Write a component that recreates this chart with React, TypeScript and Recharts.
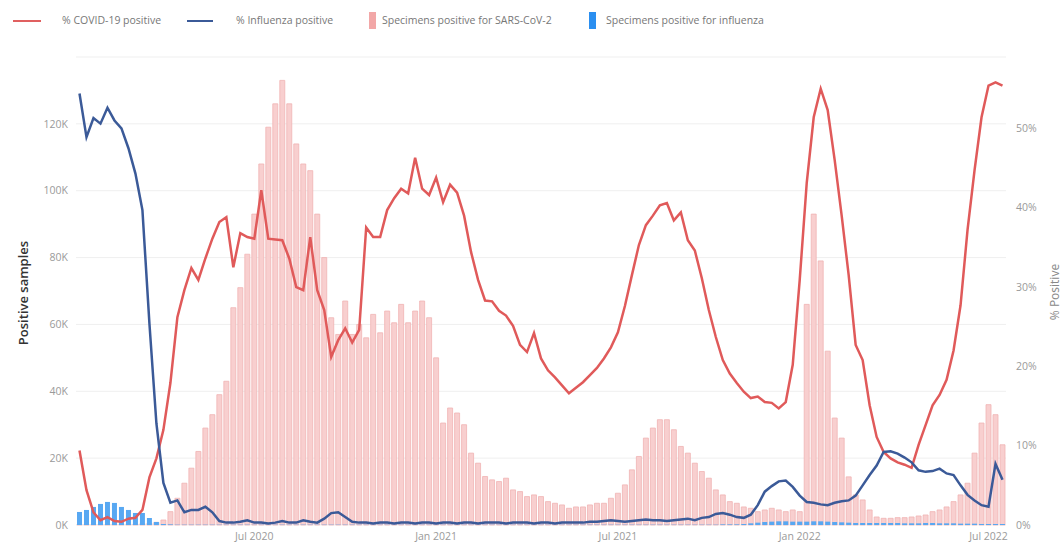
import { Bar, CartesianGrid, ComposedChart, Line, XAxis, YAxis } from "recharts";

// weekly series, first week = early Jan 2020
const covidPositivePct = [
  9.4, 4.4, 1.6, 0.6, 1.0, 0.5, 0.4, 0.8, 0.9, 1.9,
  6.0, 8.4, 12.0, 17.9, 26.2, 29.6, 32.4, 30.9, 33.6, 36.1,
  38.2, 38.8, 32.5, 36.8, 36.3, 36.1, 42.2, 36.1, 36.0, 35.9,
  33.6, 30.0, 29.6, 36.3, 29.6, 27.1, 21.2, 23.3, 24.8, 23.0,
  24.6, 37.5, 36.3, 36.3, 39.7, 41.2, 42.4, 41.8, 46.3, 42.4,
  41.6, 43.8, 40.7, 42.9, 41.9, 39.0, 34.4, 30.9, 28.3, 28.2,
  27.0, 26.4, 25.1, 22.7, 21.8, 24.2, 21.0, 19.5, 18.6, 17.6,
  16.6, 17.3, 18.0, 18.9, 19.8, 21.0, 22.4, 24.3, 27.6, 31.5,
  35.3, 37.8, 39.0, 40.3, 40.6, 38.4, 39.4, 35.9, 34.6, 31.1,
  27.1, 23.7, 20.8, 19.1, 17.9, 16.8, 16.0, 16.2, 15.5, 15.4,
  14.7, 15.5, 20.2, 30.9, 43.1, 51.4, 55.0, 52.3, 46.0, 39.0,
  31.5, 22.7, 20.8, 15.1, 11.1, 9.2, 8.4, 7.9, 7.6, 7.2,
  10.1, 12.6, 15.1, 16.4, 18.3, 22.0, 27.7, 37.2, 44.7, 51.4,
  55.4, 55.8, 55.4,
];

const fluPositivePct = [
  54.4, 48.9, 51.3, 50.6, 52.6, 51.0, 50.0, 47.5, 44.3, 39.7,
  25.4, 12.8, 5.3, 2.8, 3.1, 1.6, 1.9, 1.9, 2.3, 1.6,
  0.5, 0.3, 0.3, 0.4, 0.6, 0.3, 0.3, 0.2, 0.3, 0.5,
  0.3, 0.3, 0.6, 0.4, 0.3, 0.8, 1.5, 1.6, 1.0, 0.4,
  0.3, 0.3, 0.2, 0.3, 0.3, 0.2, 0.3, 0.3, 0.2, 0.3,
  0.3, 0.2, 0.3, 0.3, 0.2, 0.3, 0.3, 0.2, 0.3, 0.3,
  0.3, 0.2, 0.3, 0.3, 0.3, 0.2, 0.3, 0.3, 0.2, 0.3,
  0.3, 0.3, 0.3, 0.4, 0.4, 0.5, 0.6, 0.5, 0.4, 0.5,
  0.6, 0.7, 0.6, 0.6, 0.5, 0.6, 0.7, 0.8, 0.6, 0.9,
  1.0, 1.4, 1.5, 1.3, 1.0, 0.9, 1.3, 2.5, 4.2, 4.9,
  5.5, 5.6, 4.8, 3.7, 2.9, 2.8, 2.6, 2.5, 2.8, 3.0,
  3.1, 3.7, 5.0, 6.3, 7.5, 9.2, 9.3, 9.0, 8.5, 7.9,
  6.9, 6.7, 6.8, 7.1, 6.5, 6.3, 5.0, 3.8, 3.1, 2.5,
  2.3, 7.7, 5.7,
];

// specimens, thousands
const covidSpecimensK = [
  0.2, 0.2, 0.2, 0.2, 0.2, 0.2, 0.2, 0.2, 0.3, 0.4,
  0.5, 0.8, 1.5, 4, 8, 12.5, 17, 22, 29, 33,
  39, 43, 65, 71, 81, 93, 108, 119, 126, 133,
  126, 114, 108, 106, 93, 80, 62, 57, 67, 57,
  60, 56, 63, 57.5, 64, 60.5, 66, 60.5, 64, 67,
  62, 50, 30.5, 35, 33.5, 30, 21.5, 18.5, 14.5, 13.5,
  13, 14, 10.5, 10, 8.5, 9, 8.5, 7, 6.5, 6,
  5, 5.4, 5.4, 6, 6.5, 6.5, 8, 9.5, 12, 16.5,
  20.5, 26, 29, 31.5, 31.5, 28.5, 23.5, 21.5, 18.5, 16,
  14, 10.5, 9, 7, 6.5, 5.4, 5, 4, 4.5, 5,
  4.5, 4, 4.5, 4, 66, 93, 79, 52, 32, 26,
  14.4, 9, 7.5, 4.5, 2.4, 2, 2, 2.2, 2.2, 2.4,
  2.7, 3, 4, 4.5, 5.4, 7, 9, 12.5, 21.5, 30.5,
  36, 33, 24,
];

const fluSpecimensK = [
  3.9, 4.5, 5.4, 6.3, 6.9, 6.6, 5.4, 4.5, 3.6, 3.6,
  2.1, 0.9, 0.3, 0.2, 0.1, 0.1, 0.1, 0.1, 0.1, 0.1,
  0.1, 0.1, 0.1, 0.1, 0.1, 0.1, 0.1, 0.1, 0.1, 0.1,
  0.1, 0.1, 0.1, 0.1, 0.1, 0.1, 0.1, 0.1, 0.1, 0.1,
  0.1, 0.1, 0.1, 0.1, 0.1, 0.1, 0.1, 0.1, 0.1, 0.1,
  0.1, 0.1, 0.1, 0.1, 0.1, 0.1, 0.1, 0.1, 0.1, 0.1,
  0.1, 0.1, 0.1, 0.1, 0.1, 0.1, 0.1, 0.1, 0.1, 0.1,
  0.1, 0.1, 0.1, 0.1, 0.1, 0.1, 0.1, 0.1, 0.1, 0.1,
  0.1, 0.1, 0.1, 0.1, 0.1, 0.1, 0.1, 0.1, 0.1, 0.1,
  0.1, 0.1, 0.2, 0.2, 0.2, 0.3, 0.5, 0.7, 0.9, 1.0,
  1.1, 1.1, 1.0, 1.0, 1.0, 1.1, 1.1, 1.0, 0.9, 0.8,
  0.7, 0.6, 0.6, 0.6, 0.6, 0.6, 0.6, 0.6, 0.5, 0.5,
  0.5, 0.6, 0.6, 0.5, 0.5, 0.5, 0.4, 0.4, 0.4, 0.3,
  0.3, 0.3, 0.3,
];

const xTickWeeks = [25, 51, 77, 103, 130];
const xTickLabels = ["Jul 2020", "Jan 2021", "Jul 2021", "Jan 2022", "Jul 2022"];
const countTicks = [0, 20000, 40000, 60000, 80000, 100000, 120000];
const pctTicks = [0, 10, 20, 30, 40, 50];

const data = covidPositivePct.map((pct, i) => ({
  week: i,
  covidPct: pct,
  fluPct: fluPositivePct[i],
  covidCount: covidSpecimensK[i] * 1000,
  fluCount: fluSpecimensK[i] * 1000,
}));

const FONT = "'Open Sans', 'Liberation Sans', sans-serif";
const tickStyle = { fill: "#9a9a9a", fontSize: 10.5, fontFamily: FONT };

function LeftTitle() {
  return (
    <text
      x={23}
      y={293}
      transform="rotate(-90 23 293)"
      textAnchor="middle"
      dominantBaseline="central"
      fill="#333"
      fontSize={13}
      fontWeight={600}
      fontFamily={FONT}
    >
      Positive samples
    </text>
  );
}

function RightTitle() {
  return (
    <text
      x={1054}
      y={292}
      transform="rotate(-90 1054 292)"
      textAnchor="middle"
      dominantBaseline="central"
      fill="#888"
      fontSize={12}
      fontFamily={FONT}
    >
      % Positive
    </text>
  );
}

const legendText = {
  position: "absolute" as const,
  top: 13,
  fontSize: 10.5,
  color: "#777",
  fontFamily: FONT,
  whiteSpace: "nowrap" as const,
};

function ChartLegend() {
  return (
    <div style={{ position: "absolute", left: 0, top: 0, width: 1064, height: 40 }}>
      <div style={{ position: "absolute", left: 13, top: 20, width: 28, height: 2, background: "#e06060" }} />
      <span style={{ ...legendText, left: 62 }}>% COVID-19 positive</span>
      <div style={{ position: "absolute", left: 187, top: 20, width: 26, height: 2, background: "#3b5a98" }} />
      <span style={{ ...legendText, left: 236 }}>% Influenza positive</span>
      <div style={{ position: "absolute", left: 369, top: 12, width: 7, height: 17, background: "#f2a7a7" }} />
      <span style={{ ...legendText, left: 382 }}>Specimens positive for SARS-CoV-2</span>
      <div style={{ position: "absolute", left: 589, top: 12, width: 7, height: 17, background: "#2b8ff0" }} />
      <span style={{ ...legendText, left: 606 }}>Specimens positive for influenza</span>
    </div>
  );
}

export default function App() {
  return (
    <div style={{ position: "absolute", left: 0, top: 0, width: 1064, height: 544, background: "#fff" }}>
      <ChartLegend />
      <ComposedChart
        width={1064}
        height={544}
        data={data}
        margin={{ top: 57, right: 12, bottom: 0, left: 0 }}
        barGap={-5}
      >
        <CartesianGrid yAxisId="count" vertical={false} stroke="#efefef" />
        <XAxis
          dataKey="week"
          type="category"
          ticks={xTickWeeks}
          tickFormatter={(w: number) => xTickLabels[xTickWeeks.indexOf(w)] ?? ""}
          interval={0}
          height={19}
          axisLine={false}
          tickLine={false}
          tickSize={0}
          tickMargin={8}
          tick={tickStyle}
        />
        <YAxis
          yAxisId="count"
          width={76}
          domain={[0, 140000]}
          ticks={countTicks}
          tickFormatter={(v: number) => `${v / 1000}K`}
          axisLine={false}
          tickLine={false}
          tickSize={0}
          tickMargin={8}
          tick={tickStyle}
          label={{ content: LeftTitle }}
        />
        <YAxis
          yAxisId="pct"
          orientation="right"
          width={46}
          domain={[0, 59]}
          ticks={pctTicks}
          tickFormatter={(v: number) => `${v}%`}
          axisLine={false}
          tickLine={false}
          tickSize={0}
          tickMargin={10}
          tick={tickStyle}
          label={{ content: RightTitle }}
        />
        <Bar
          yAxisId="count"
          dataKey="covidCount"
          fill="#f8cfcf"
          stroke="#f0b4b4"
          strokeWidth={0.8}
          barSize={5}
          isAnimationActive={false}
        />
        <Bar
          yAxisId="count"
          dataKey="fluCount"
          fill="#58a8f2"
          barSize={5}
          isAnimationActive={false}
        />
        <Line
          yAxisId="pct"
          dataKey="covidPct"
          stroke="#e05a5a"
          strokeWidth={2.5}
          dot={false}
          type="linear"
          isAnimationActive={false}
        />
        <Line
          yAxisId="pct"
          dataKey="fluPct"
          stroke="#3b5a98"
          strokeWidth={2.5}
          dot={false}
          type="linear"
          isAnimationActive={false}
        />
      </ComposedChart>
    </div>
  );
}
